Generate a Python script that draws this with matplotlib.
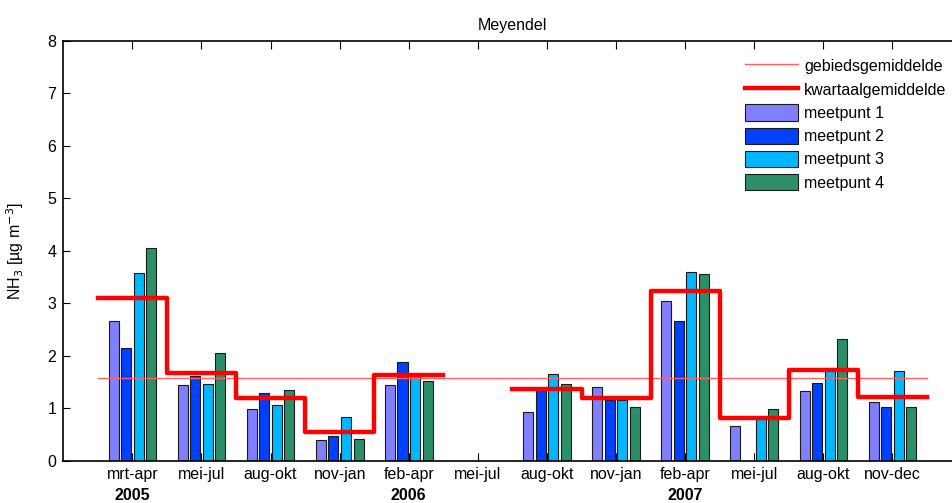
import matplotlib.pyplot as plt
import numpy as np

plt.rcParams['font.family'] = ['Liberation Sans', 'DejaVu Sans']
plt.rcParams['font.size'] = 11.5

periods = ['mrt-apr', 'mei-jul', 'aug-okt', 'nov-jan', 'feb-apr', 'mei-jul',
           'aug-okt', 'nov-jan', 'feb-apr', 'mei-jul', 'aug-okt', 'nov-dec']
years = {1: '2005', 5: '2006', 9: '2007'}

nan = np.nan
meetpunt1 = [2.67, 1.44, 0.99, 0.40, 1.44, nan, 0.94, 1.41, 3.05, 0.67, 1.34, 1.13]
meetpunt2 = [2.15, 1.62, 1.29, 0.47, 1.89, nan, 1.35, 1.17, 2.67, nan, 1.48, 1.02]
meetpunt3 = [3.57, 1.46, 1.07, 0.84, 1.62, nan, 1.65, 1.17, 3.59, 0.80, 1.77, 1.72]
meetpunt4 = [4.06, 2.05, 1.36, 0.42, 1.53, nan, 1.46, 1.02, 3.55, 0.99, 2.32, 1.02]
kwartaal = [3.10, 1.67, 1.19, 0.56, 1.64, nan, 1.37, 1.19, 3.23, 0.82, 1.74, 1.22]
gebied = 1.58

series = [meetpunt1, meetpunt2, meetpunt3, meetpunt4]
names = ['meetpunt 1', 'meetpunt 2', 'meetpunt 3', 'meetpunt 4']
colors = ['#8080ff', '#0040ff', '#00b8ff', '#2b9068']

fig = plt.figure(figsize=(9.53, 5.03), dpi=100)
ax = fig.add_axes([0.0664, 0.0835, 0.9426, 0.8356])

x = np.arange(1, len(periods) + 1)
slot = 0.182
bw = 0.145
for k, (vals, nm, c) in enumerate(zip(series, names, colors)):
    ax.bar(x + (k - 1.5) * slot, vals, width=bw, color=c, edgecolor='#1a1a1a',
           linewidth=0.8, label=nm, zorder=2)

# kwartaalgemiddelde as steps over each period
xs = np.column_stack([x - 0.5, x + 0.5]).ravel()
ys = np.repeat(kwartaal, 2)
ax.plot([0.5, 12.5], [gebied, gebied], color='#ff6060', lw=1.0,
        label='gebiedsgemiddelde', zorder=3)
ax.plot(xs, ys, color='#ff0000', lw=3.2, label='kwartaalgemiddelde', zorder=4)

ax.set_xlim(0, 13)
ax.set_ylim(0, 8)
ax.set_xticks(x)
ax.set_xticklabels(periods)
ax.set_yticks(range(0, 9))
ax.tick_params(axis='x', direction='in', top=True, length=6, pad=4)
ax.tick_params(axis='y', direction='in', length=5, pad=5)
for s in ax.spines.values():
    s.set_linewidth(1.2)

for pos, yr in years.items():
    ax.text(pos, -0.66, yr, ha='center', va='center', fontweight='bold',
            transform=ax.transData)

ax.set_title('Meyendel', fontsize=11.5, pad=8)
ax.set_ylabel('NH$_3$ [µg m$^{-3}$]')
ax.yaxis.set_label_coords(-0.041, 0.5)

h, l = ax.get_legend_handles_labels()
order = [l.index('gebiedsgemiddelde'), l.index('kwartaalgemiddelde')] + [l.index(n) for n in names]
ax.legend([h[i] for i in order], [l[i] for i in order], loc='upper left',
          bbox_to_anchor=(0.775, 0.898), bbox_transform=fig.transFigure,
          frameon=False, handlelength=3.3, handleheight=1.2, labelspacing=0.42,
          handletextpad=0.4, borderaxespad=0)

fig.savefig('out.png', dpi=100)
